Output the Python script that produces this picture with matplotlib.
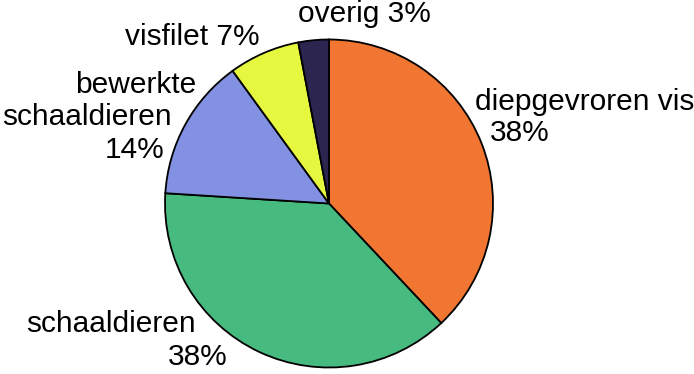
import matplotlib.pyplot as plt

plt.rcParams['font.family'] = ['Liberation Sans', 'DejaVu Sans']

labels = ['diepgevroren vis', 'schaaldieren', 'bewerkte schaaldieren', 'visfilet', 'overig']
values = [38, 38, 14, 7, 3]
colors = ['#F07632', '#47BA80', '#8291E2', '#E5F73E', '#2B2550']

# label lines, positioned in pixel space (x, baseline y from top)
label_lines = [
    ('diepgevroren vis', 475, 110),
    ('38%', 490, 141),
    ('schaaldieren', 26, 332),
    ('38%', 168, 365),
    ('bewerkte', 75, 93),
    ('schaaldieren', 2, 125),
    ('14%', 105, 158),
    ('visfilet 7%', 125, 45),
    ('overig 3%', 298, 22),
]

W, H = 694, 374
fig = plt.figure(figsize=(W / 100, H / 100), dpi=100, facecolor='w')

cx, cy, r = 329, 203.5, 164
ax = fig.add_axes([(cx - r) / W, (H - cy - r) / H, 2 * r / W, 2 * r / H])
ax.pie(values, colors=colors, startangle=90, counterclock=False,
       radius=1, wedgeprops=dict(edgecolor='black', linewidth=1.3))
ax.set_xlim(-1.0, 1.0)
ax.set_ylim(-1.0, 1.0)
ax.set_aspect('equal')
ax.axis('off')

tx = fig.add_axes([0, 0, 1, 1], facecolor='none')
tx.set_xlim(0, W)
tx.set_ylim(H, 0)
tx.axis('off')
for text, x, y in label_lines:
    tx.text(x, y, text, fontsize=21.5, ha='left', va='baseline', color='black')

plt.savefig('out.png', dpi=100, facecolor='w')
